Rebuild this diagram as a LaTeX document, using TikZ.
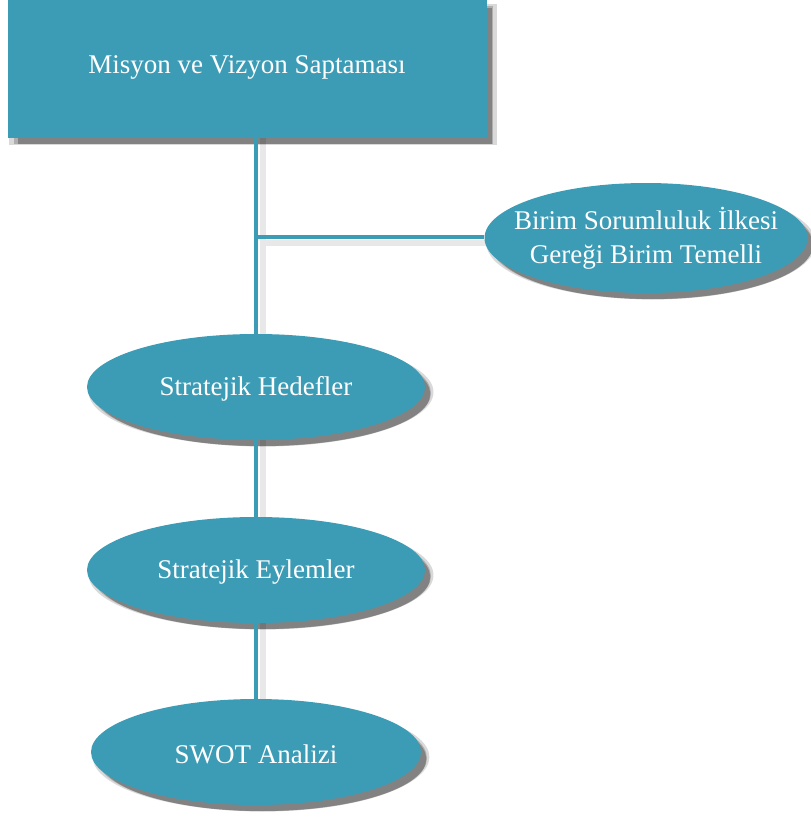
\documentclass[tikz,border=0pt]{standalone}
\usepackage{fontspec}
\setmainfont{Liberation Serif}
\usetikzlibrary{shapes.geometric,shadows}
\definecolor{teal1}{RGB}{60,156,182}
\tikzset{
  softshadow/.style={
    general shadow={shadow xshift=5pt, shadow yshift=-5pt, shadow scale=1.02, opacity=0.15, fill=black},
    general shadow={shadow xshift=6pt, shadow yshift=-6pt, opacity=0.2, fill=black},
    general shadow={shadow xshift=7pt, shadow yshift=-7pt, shadow scale=0.99, opacity=0.25, fill=black}},
  box/.style={draw=none, fill=teal1, softshadow},
  lbl/.style={text=white, font=\fontsize{27}{34}\selectfont, align=center, inner sep=0pt},
  oval/.style={ellipse, draw=none, fill=teal1, inner sep=0pt, softshadow},
  conn/.style={draw=teal1, line width=3.5pt},
  connshadow/.style={draw=black!9, line width=6pt}
}
\begin{document}
\begin{tikzpicture}[x=1pt,y=-1pt]
\useasboundingbox (0,0) rectangle (811,820);
\coordinate (top) at (256,138);
\coordinate (branch) at (256,237);
\coordinate (bend) at (483,237);
\coordinate (bottom) at (256,700);
\draw[connshadow] ([xshift=6pt,yshift=-6pt]branch) -- ([xshift=6pt,yshift=-6pt]bend);
\draw[connshadow] ([xshift=7pt]top) -- ([xshift=7pt]bottom);
\node[box, minimum width=479pt, minimum height=138pt, anchor=north west] (mis) at (8,0) {};
\node[lbl] (mistext) at (247,67) {Misyon ve Vizyon Saptaması};
\node[oval, minimum width=323pt, minimum height=110pt] (birim) at (646,238) {};
\node[lbl] (birimtext) at (646,238) {Birim Sorumluluk İlkesi\\Gereği Birim Temelli};
\node[oval, minimum width=338pt, minimum height=106pt] (hed) at (256,387) {};
\node[lbl] (hedtext) at (256,389) {Stratejik Hedefler};
\node[oval, minimum width=338pt, minimum height=106pt] (eyl) at (256,570) {};
\node[lbl] (eyltext) at (256,572) {Stratejik Eylemler};
\node[oval, minimum width=330pt, minimum height=106pt] (swot) at (256,752) {};
\node[lbl] (swottext) at (256,754) {SWOT Analizi};
\draw[conn] (mis.south -| top) -- (hed.north);
\draw[conn] (branch) -- (branch -| birim.west);
\draw[conn] (hed.south) -- (eyl.north);
\draw[conn] (eyl.south) -- (swot.north);
\end{tikzpicture}
\end{document}
